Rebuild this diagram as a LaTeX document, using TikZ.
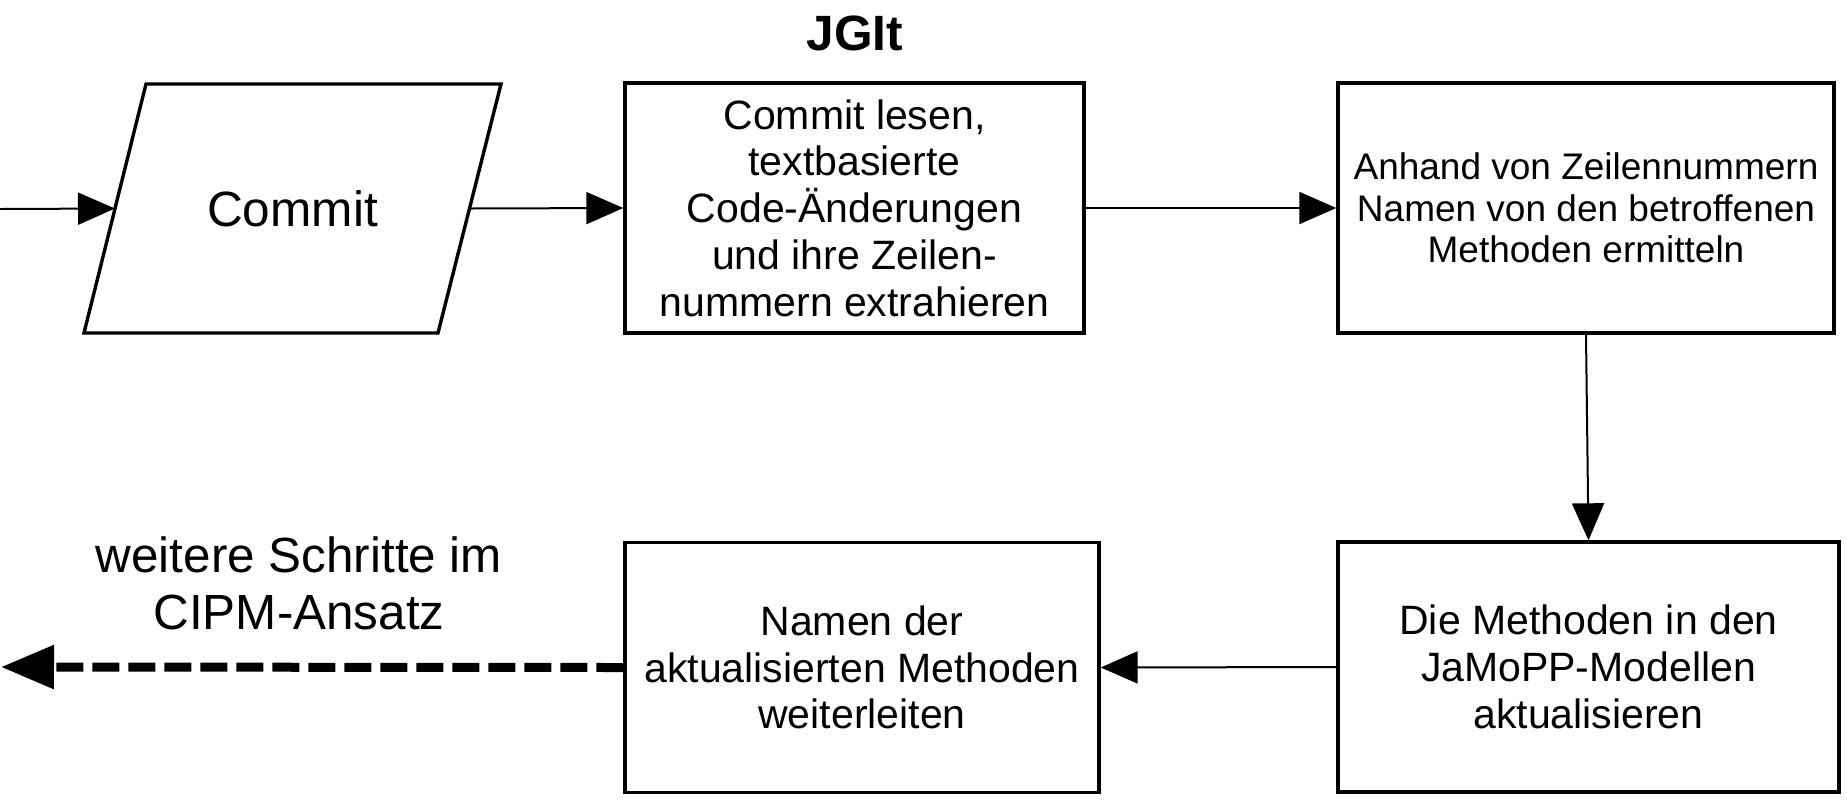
\documentclass[tikz,border=0pt]{standalone}
\usepackage{fontspec}
\setmainfont{Liberation Sans}
\usetikzlibrary{arrows.meta}
\begin{document}
\begin{tikzpicture}[x=0.5pt,y=-0.5pt,
  box/.style={draw, line width=1.7pt, minimum height=125pt, align=center, inner sep=0pt,
    font=\fontsize{20.5}{23.35}\selectfont},
  conn/.style={line width=1pt, -{Triangle[length=18.5pt,width=16pt]}},
  dashconn/.style={line width=4.5pt, dash pattern=on 13.5pt off 4.5pt, -{Triangle[length=26.5pt,width=21pt]}},
]
\useasboundingbox (0,0) rectangle (1847,800);

% input parallelogram
\node[inner sep=0pt, font=\fontsize{24.8}{28}\selectfont] (commit) at (292.5,208.5) {Commit};
\draw[line width=1.7pt, line join=miter] (146,84) -- (501,84) -- (438,333) -- (84,333) -- cycle;
\coordinate (commitL) at (115,208.5);
\coordinate (commitR) at (469.5,208.5);

\node[box, minimum width=229.5pt] (b1) at (854.5,208) {Commit lesen,\\textbasierte\\Code-Änderungen\\und ihre Zeilen-\\nummern extrahieren};
\node[box, minimum width=248pt, font=\fontsize{18.5}{20.85}\selectfont] (b2) at (1586,208) {Anhand von Zeilennummern\\Namen von den betroffenen\\Methoden ermitteln};
\node[box, minimum width=250.5pt] (b3) at (1588.5,667) {Die Methoden in den\\JaMoPP-Modellen\\aktualisieren};
\node[box, minimum width=237pt] (b4) at (862,667.5) {Namen der\\aktualisierten Methoden\\weiterleiten};

\node[font=\bfseries\fontsize{24.8}{28}\selectfont] (title) at (855,33) {JGIt};
\node[align=center, font=\fontsize{24.7}{28.35}\selectfont] (next) at (299,583) {weitere Schritte im\\CIPM-Ansatz};

\coordinate (in) at (0,209);
\coordinate (out) at (1,667);

\draw[conn] (in) -- (commitL);
\draw[conn] (commitR) -- (b1.west);
\draw[conn] (b1.east) -- (b2.west);
\draw[conn] (b2.south) -- (b3.north);
\draw[conn] (b3.west) -- (b4.east);
\draw[dashconn] (b4.west) -- (out);
\end{tikzpicture}
\end{document}
